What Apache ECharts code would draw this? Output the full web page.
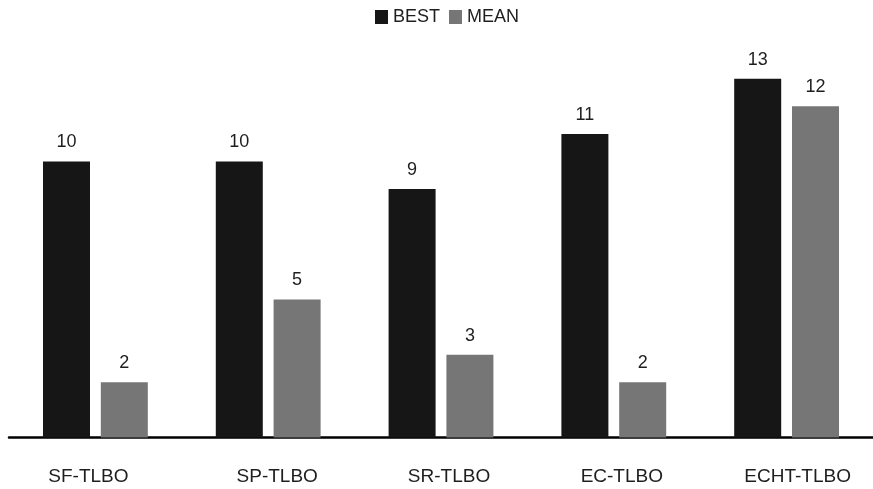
<!DOCTYPE html>
<html>
<head>
<meta charset="utf-8">
<script src="https://cdn.jsdelivr.net/npm/echarts@6/dist/echarts.min.js"></script>
<style>
  html, body { margin: 0; padding: 0; background: #fff; }
  #chart { width: 873px; height: 489px; }
</style>
</head>
<body>
<div id="chart"></div>
<script>
// Algorithm variants and their BEST / MEAN counts
const categories = ['SF-TLBO', 'SP-TLBO', 'SR-TLBO', 'EC-TLBO', 'ECHT-TLBO'];
const bestValues = [10, 10, 9, 11, 13];
const meanValues = [2, 5, 3, 2, 12];
const seriesNames = ['BEST', 'MEAN'];

// horizontal nudge (px) of each category label relative to its bar pair
const labelNudge = [-7, 9, 8, 8, 11];

const FONT = '"Liberation Sans", Arial, Helvetica, sans-serif';
const TEXT = '#1e1e1e';

const rich = {};
labelNudge.forEach((n, i) => {
  rich['c' + i] = {
    fontFamily: FONT,
    fontSize: 19,
    color: TEXT,
    padding: n >= 0 ? [0, 0, 0, 2 * n] : [0, -2 * n, 0, 0]
  };
});

const valueLabel = {
  show: true,
  position: 'top',
  distance: 10,
  fontFamily: FONT,
  fontSize: 18,
  color: TEXT
};

const chart = echarts.init(document.getElementById('chart'), null, { renderer: 'canvas' });
chart.setOption({
  animation: false,
  backgroundColor: '#ffffff',
  legend: {
    data: seriesNames,
    left: 375,
    top: 8,
    icon: 'rect',
    itemWidth: 13,
    itemHeight: 14,
    itemGap: 9,
    padding: 0,
    textStyle: { fontFamily: FONT, fontSize: 18, color: TEXT }
  },
  grid: { left: 9, right: -6, top: 23.5, bottom: 51.5, containLabel: false },
  xAxis: {
    type: 'category',
    data: categories,
    axisLine: { show: true, lineStyle: { color: '#000', width: 2.5 } },
    axisTick: { show: false },
    axisLabel: {
      margin: 30,
      formatter: (v, i) => '{c' + i + '|' + v + '}',
      rich: rich
    }
  },
  yAxis: {
    type: 'value',
    min: 0,
    max: 15,
    show: false,
    splitLine: { show: false }
  },
  series: [
    {
      name: seriesNames[0],
      type: 'bar',
      data: bestValues,
      barWidth: 47,
      barGap: '23%',
      itemStyle: { color: '#161616' },
      label: valueLabel
    },
    {
      name: seriesNames[1],
      type: 'bar',
      data: meanValues,
      barWidth: 47,
      itemStyle: { color: '#767676' },
      label: valueLabel
    }
  ]
});
</script>
</body>
</html>
